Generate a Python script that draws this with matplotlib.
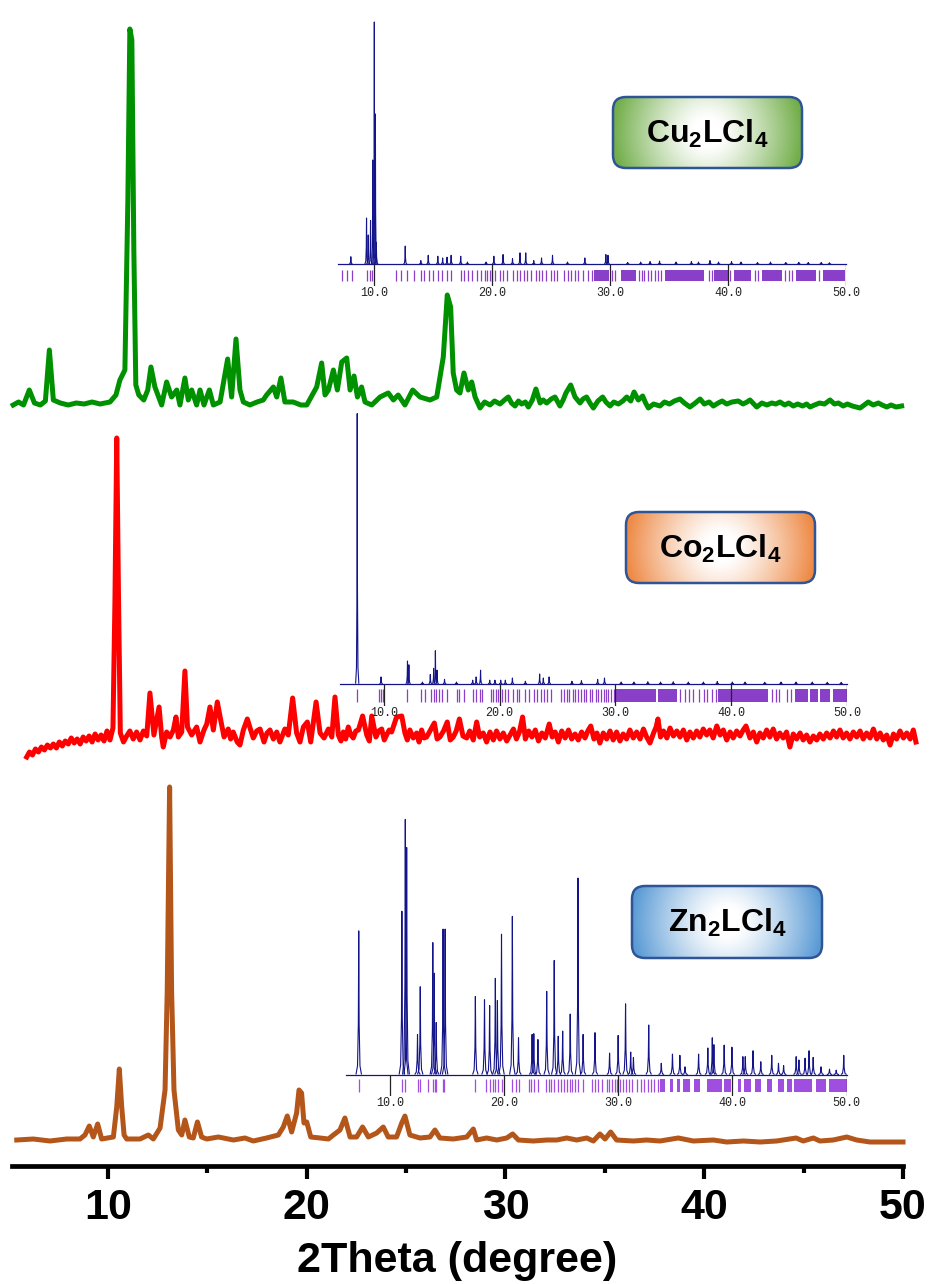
import numpy as np
import matplotlib.pyplot as plt
import matplotlib.colors as mcolors
from matplotlib.patches import FancyBboxPatch
from matplotlib.collections import LineCollection

W, H = 931, 1284
plt.rcParams['font.family'] = ['Liberation Sans', 'DejaVu Sans']
plt.rcParams['mathtext.fontset'] = 'custom'
plt.rcParams['mathtext.bf'] = 'Liberation Sans:bold'
plt.rcParams['mathtext.rm'] = 'Liberation Sans'

# ---- experimental patterns (2theta, counts above own baseline) ----
green_x = [5.23, 5.5, 5.75, 6.04, 6.3, 6.6, 6.85, 7.05, 7.25, 7.6,
           8.0, 8.4, 8.8, 9.2, 9.6, 10.1, 10.4, 10.6, 10.85, 11.0,
           11.1, 11.2, 11.3, 11.4, 11.55, 11.8, 12.0, 12.16, 12.36, 12.7,
           12.95, 13.2, 13.46, 13.62, 13.87, 14.04, 14.21, 14.46, 14.63, 14.83,
           15.1, 15.3, 15.64, 16.02, 16.22, 16.44, 16.64, 16.81, 17.14, 17.5,
           17.81, 17.98, 18.32, 18.49, 18.7, 18.9, 19.32, 19.7, 20.0, 20.33,
           20.5, 20.75, 20.92, 21.09, 21.34, 21.54, 21.76, 22.01, 22.18, 22.38,
           22.55, 22.76, 22.93, 23.27, 23.69, 24.1, 24.36, 24.6, 24.94, 25.33,
           25.7, 26.2, 26.54, 26.87, 27.07, 27.24, 27.37, 27.54, 27.71, 27.91,
           28.13, 28.3, 28.47, 28.72, 28.95, 29.22, 29.45, 29.72, 29.95, 30.14,
           30.3, 30.48, 30.65, 30.81, 31.0, 31.15, 31.35, 31.53, 31.74, 31.9,
           32.07, 32.3, 32.49, 32.74, 32.9, 33.04, 33.28, 33.5, 33.75, 33.9,
           34.08, 34.25, 34.42, 34.65, 34.89, 35.05, 35.26, 35.45, 35.68, 35.9,
           36.1, 36.3, 36.47, 36.68, 36.9, 37.05, 37.19, 37.45, 37.77, 38.0,
           38.25, 38.5, 38.78, 39.0, 39.28, 39.55, 39.79, 40.0, 40.25, 40.46,
           40.7, 40.9, 41.13, 41.4, 41.71, 41.95, 42.15, 42.3, 42.64, 42.9,
           43.15, 43.4, 43.6, 43.81, 44.05, 44.25, 44.48, 44.7, 44.95, 45.15,
           45.32, 45.55, 45.8, 46.05, 46.33, 46.55, 46.75, 46.99, 47.2, 47.45,
           47.65, 47.84, 48.05, 48.25, 48.5, 48.76, 48.95, 49.18, 49.4, 49.65,
           49.93]
green_i = [0, 3, 0, 15, 2, 0, 4, 55, 5, 2,
           0, 2, 1, 3, 1, 3, 10, 25, 35, 205,
           376, 365, 155, 20, 10, 5, 15, 38, 18, 0,
           23, 8, 15, 0, 27, 5, 15, 0, 15, 0,
           15, 0, 3, 46, 8, 66, 15, 3, 0, 3,
           5, 10, 18, 8, 27, 3, 3, 0, 0, 12,
           18, 42, 10, 15, 35, 15, 43, 47, 15, 29,
           8, 18, 3, 0, 8, 12, 5, 10, 0, 15,
           8, 5, 8, 48, 110, 98, 32, 15, 12, 32,
           15, 23, 8, -3, 3, 0, 4, 1, 5, 8,
           2, -1, 4, 1, 3, -2, 5, 16, 2, 5,
           2, 6, 8, -1, 5, 12, 20, 8, 2, 6,
           8, 2, -3, 4, 8, 3, -1, 3, 1, 4,
           8, 4, 13, 5, 9, 2, -3, 1, -1, 3,
           1, 4, 6, 2, -2, 2, 6, 1, 3, -1,
           2, 4, 1, 3, 4, 1, 3, 5, -2, 2,
           0, 2, 1, 3, 0, 2, -1, 1, -1, 1,
           -2, 0, 2, 1, 5, 1, 2, -1, 1, -1,
           -2, -3, 0, 3, 0, 2, 0, -2, 0, -2,
           -1]

red_x = [5.91, 6.05, 6.2, 6.35, 6.5, 6.65, 6.8, 6.95, 7.1, 7.25,
         7.4, 7.55, 7.7, 7.85, 8.0, 8.15, 8.3, 8.45, 8.6, 8.75,
         8.9, 9.05, 9.2, 9.35, 9.5, 9.65, 9.8, 9.95, 10.1, 10.25,
         10.35, 10.44, 10.53, 10.62, 10.78, 10.94, 11.1, 11.27, 11.44, 11.61,
         11.78, 11.95, 12.11, 12.31, 12.57, 12.7, 12.78, 12.95, 13.12, 13.29,
         13.42, 13.54, 13.71, 13.87, 14.0, 14.21, 14.46, 14.63, 14.83, 14.97,
         15.13, 15.3, 15.5, 15.67, 15.84, 16.05, 16.17, 16.3, 16.5, 16.64,
         16.81, 17.01, 17.18, 17.31, 17.48, 17.65, 17.85, 18.0, 18.15, 18.32,
         18.49, 18.65, 18.9, 19.07, 19.29, 19.49, 19.66, 19.83, 20.03, 20.2,
         20.47, 20.67, 20.87, 21.09, 21.26, 21.42, 21.59, 21.72, 21.84, 21.96,
         22.09, 22.22, 22.34, 22.47, 22.6, 22.81, 23.02, 23.15, 23.27, 23.48,
         23.62, 23.77, 23.9, 24.02, 24.15, 24.27, 24.52, 24.78, 24.94, 25.06,
         25.19, 25.36, 25.53, 25.65, 25.78, 25.9, 26.03, 26.2, 26.42, 26.56,
         26.7, 26.88, 27.07, 27.22, 27.37, 27.52, 27.68, 27.86,
         28.05, 28.2, 28.38, 28.55, 28.7, 28.88, 29.05, 29.22, 29.39, 29.55,
         29.72, 29.89, 30.06, 30.23, 30.4, 30.55, 30.7, 30.86, 31.0, 31.17,
         31.33, 31.5, 31.66, 31.83, 32.0, 32.2, 32.35, 32.5, 32.66, 32.83,
         33.0, 33.17, 33.33, 33.5, 33.66, 33.83, 34.0, 34.14, 34.29, 34.45,
         34.6, 34.75, 34.92, 35.09, 35.26, 35.42, 35.59, 35.76, 35.92, 36.09,
         36.26, 36.43, 36.6, 36.77, 36.94, 37.1, 37.27, 37.45, 37.58, 37.67,
         37.8, 37.95, 38.12, 38.28, 38.45, 38.62, 38.78, 38.95, 39.12, 39.28,
         39.45, 39.62, 39.78, 39.95, 40.12, 40.28, 40.45, 40.63, 40.8, 40.96,
         41.13, 41.3, 41.46, 41.63, 41.8, 41.96, 42.1, 42.3, 42.47, 42.64,
         42.8, 42.97, 43.14, 43.3, 43.47, 43.64, 43.8, 43.97, 44.14, 44.31,
         44.48, 44.65, 44.82, 44.98, 45.15, 45.32, 45.49, 45.66, 45.82, 45.99,
         46.16, 46.33, 46.5, 46.66, 46.83, 46.99, 47.16, 47.33, 47.5, 47.67,
         47.84, 48.0, 48.17, 48.34, 48.51, 48.68, 48.85, 49.01, 49.18, 49.35,
         49.52, 49.68, 49.85, 50.02, 50.19, 50.36, 50.52, 50.65]
red_i = [0, 5, 2, 8, 5, 10, 7, 12, 9, 13,
         9, 15, 11, 16, 13, 19, 14, 18, 13, 20,
         16, 21, 15, 23, 17, 22, 16, 26, 17, 29,
         157, 319, 157, 24, 15, 21, 26, 18, 25, 17,
         26, 21, 64, 22, 50, 20, 10, 25, 20, 27,
         40, 20, 25, 86, 30, 22, 30, 15, 27, 33,
         50, 27, 55, 37, 20, 28, 18, 25, 15, 12,
         27, 38, 27, 19, 26, 28, 15, 24, 27, 18,
         25, 15, 28, 22, 59, 24, 15, 30, 35, 15,
         55, 24, 19, 28, 20, 60, 22, 16, 25, 18,
         30, 22, 19, 26, 27, 41, 22, 16, 41, 20,
         26, 28, 17, 22, 27, 25, 40, 41, 24, 17,
         27, 19, 24, 15, 27, 19, 20, 26, 34, 18,
         20, 26, 35, 17, 20, 26, 38, 21,
         19, 26, 17, 35, 20, 24, 15, 25, 17, 26,
         18, 24, 16, 22, 28, 18, 25, 40, 18, 26,
         20, 27, 16, 24, 19, 33, 20, 25, 15, 26,
         19, 27, 18, 23, 17, 25, 19, 26, 31, 18,
         24, 14, 24, 18, 26, 17, 25, 16, 23, 18,
         27, 19, 25, 18, 28, 20, 14, 24, 30, 38,
         20, 26, 19, 29, 21, 26, 20, 27, 17, 25,
         19, 26, 20, 28, 22, 27, 19, 31, 22, 27,
         17, 25, 19, 26, 21, 27, 31, 19, 25, 15,
         24, 19, 27, 20, 28, 18, 24, 19, 25, 10,
         23, 18, 24, 17, 22, 15, 21, 17, 23, 18,
         24, 19, 26, 20, 27, 19, 24, 18, 25, 20,
         26, 18, 24, 19, 28, 18, 24, 17, 22, 12,
         23, 18, 26, 19, 24, 18, 27, 15]

brown_x = [5.41, 6.24, 7.08, 7.92, 8.59, 8.84, 9.06, 9.26, 9.48, 9.68,
           10.27, 10.44, 10.57, 10.69, 10.81, 10.94, 11.61, 12.03, 12.28, 12.62,
           12.87, 12.98, 13.1, 13.2, 13.32, 13.54, 13.71, 13.87, 14.09, 14.29,
           14.5, 14.71, 14.97, 15.55, 16.31, 16.89, 17.31, 17.98, 18.57, 18.82,
           19.02, 19.24, 19.49, 19.61, 19.74, 19.86, 20.0, 20.2, 20.67, 21.09,
           21.34, 21.67, 21.92, 22.18, 22.51, 22.81, 23.1, 23.52, 23.85, 24.1,
           24.52, 24.78, 24.94, 25.19, 25.7, 26.2, 26.45, 26.7, 27.37, 28.05,
           28.38, 28.55, 29.05, 29.56, 30.06, 30.36, 30.65, 31.4, 32.07, 32.58,
           33.08, 33.58, 34.09, 34.42, 34.75, 35.01, 35.29, 35.59, 36.43, 37.1,
           37.77, 38.69, 39.45, 40.46, 41.13, 41.97, 42.81, 43.64, 44.62, 44.98,
           45.49, 45.82, 46.49, 47.17, 47.67, 48.34, 49.18, 50.0]
brown_i = [1, 2, 0, 2, 2, 6, 15, 4, 17, 2,
           4, 34, 72, 34, 6, 2, 2, 6, 2, 13,
           51, 150, 354, 150, 51, 11, 6, 21, 4, 3,
           19, 4, 2, 4, 1, 3, 0, 3, 6, 14,
           25, 9, 28, 51, 48, 18, 19, 4, 3, 2,
           6, 11, 23, 4, 4, 14, 4, 8, 14, 4,
           4, 18, 25, 6, 3, 4, 11, 3, 2, 4,
           12, 1, 3, 1, 3, 7, 1, 0, 1, 1,
           3, 1, 3, 0, 7, 2, 9, 1, 0, 1,
           0, 3, 0, 1, -1, 0, -1, 0, 3, 0,
           3, 0, 1, 4, 1, -1, -1, -1]

# ---- simulated patterns (peak position, relative intensity) ----
cu_sim_pos = [8.04, 9.37, 9.51, 9.71, 9.91, 10.03, 10.12, 10.2, 12.65, 13.97,
              14.6, 15.41, 15.82, 16.19, 16.54, 17.35, 17.92, 19.5, 20.16, 20.94,
              21.74, 22.37, 22.86, 23.54, 24.2, 25.13, 26.4, 27.87, 29.65, 29.83,
              31.5, 32.6, 33.4, 34.2, 35.6, 36.9, 37.5, 38.47, 39.2, 40.3,
              41.1, 42.5, 43.6, 44.9, 46.0, 46.8, 47.9, 48.6]
cu_sim_int = [0.03, 0.19, 0.12, 0.18, 0.43, 1.0, 0.62, 0.09, 0.074, 0.014,
              0.036, 0.032, 0.025, 0.028, 0.036, 0.032, 0.008, 0.008, 0.032, 0.039,
              0.022, 0.046, 0.046, 0.014, 0.025, 0.036, 0.008, 0.025, 0.039, 0.036,
              0.006, 0.008, 0.01, 0.012, 0.008, 0.01, 0.008, 0.014, 0.008, 0.01,
              0.008, 0.006, 0.008, 0.006, 0.007, 0.006, 0.006, 0.005]
cu_refl = [7.32, 7.69, 8.13, 9.37, 9.65, 9.86, 11.87, 12.31, 12.82, 13.4,
           13.98, 14.27, 14.67, 15.04, 15.42, 15.76, 16.2, 16.54, 17.35, 17.64,
           17.93, 18.3, 18.7, 19.08, 19.37, 19.57, 19.8, 20.03, 20.23, 20.66,
           20.95, 21.24, 21.82, 22.1, 22.39, 22.68, 22.97, 23.31, 23.69, 23.98,
           24.27, 24.55, 24.99, 25.27, 25.5, 26.14, 26.43, 26.71, 27.0, 27.29,
           27.72, 28.16, 28.44, 30.17, 30.46, 32.48, 32.71, 32.91, 33.2, 33.49,
           33.78, 34.06, 34.35, 38.39, 38.67, 40.2, 42.28, 42.56, 44.87, 45.16,
           45.45, 47.75]
cu_bands = [(28.67, 29.94), (30.9, 32.19), (34.64, 37.95), (38.82, 39.97),
            (40.55, 41.99), (42.85, 44.58), (45.73, 47.46), (48.04, 49.91)]

co_sim_pos = [7.71, 9.77, 12.05, 12.17, 13.34, 14.02, 14.31, 14.46, 14.6, 15.25,
              16.28, 17.68, 17.98, 18.36, 19.15, 19.6, 20.1, 20.5, 21.11, 22.23,
              23.46, 23.78, 24.28, 26.25, 27.07, 28.47, 29.06, 30.5, 31.6, 32.8,
              33.9, 35.0, 36.3, 37.6, 38.8, 40.1, 41.2, 42.9, 44.3, 45.6,
              47.0, 48.3, 49.5]
co_sim_int = [1.0, 0.025, 0.084, 0.07, 0.006, 0.034, 0.057, 0.122, 0.05, 0.016,
              0.006, 0.013, 0.025, 0.05, 0.013, 0.013, 0.013, 0.013, 0.021, 0.009,
              0.036, 0.021, 0.025, 0.009, 0.011, 0.016, 0.021, 0.006, 0.006, 0.007,
              0.006, 0.007, 0.006, 0.006, 0.008, 0.006, 0.006, 0.005, 0.006, 0.006,
              0.006, 0.005, 0.005]
co_refl = [7.65, 9.62, 9.77, 9.91, 12.05, 13.23, 13.58, 14.11, 14.31, 14.52,
           14.75, 15.04, 15.48, 16.36, 16.51, 16.89, 17.68, 17.98, 18.27, 18.5,
           19.3, 19.44, 19.65, 19.88, 20.18, 20.47, 20.76, 21.2, 21.5, 21.7,
           22.23, 22.52, 22.96, 23.26, 23.55, 23.84, 24.13, 24.43, 25.3, 25.55,
           25.8, 26.0, 26.3, 26.55, 26.8, 27.05, 27.3, 27.5, 27.8, 28.0,
           28.3, 28.5, 28.75, 29.0, 29.2, 29.4, 29.65, 29.85, 35.57, 36.01,
           36.39, 36.74, 37.18, 37.62, 37.92, 38.36, 38.65, 43.49, 43.84, 44.13,
           44.81, 45.19]
co_bands = [(30.0, 33.5), (33.65, 35.3), (38.9, 40.0), (40.1, 43.2),
            (45.5, 46.6), (46.8, 47.5), (47.7, 48.5), (48.75, 50.0)]

zn_sim_pos = [7.26, 11.04, 11.34, 11.46, 12.41, 12.65, 13.75, 13.87, 14.05, 14.65,
              14.83, 17.48, 18.28, 18.73, 19.23, 19.41, 19.77, 20.72, 21.26, 22.45,
              22.6, 22.96, 23.73, 24.39, 24.74, 25.13, 25.79, 26.47, 26.92, 27.96,
              29.24, 29.99, 30.64, 31.09, 31.33, 32.67, 33.77, 34.75, 35.4, 35.85,
              37.04, 37.85, 38.24, 38.38, 39.28, 39.96, 40.92, 41.13, 41.81, 42.49,
              43.45, 44.04, 44.49, 45.59, 45.83, 46.37, 46.72, 47.08, 47.77, 48.51,
              49.1, 49.76]
zn_sim_int = [0.563, 0.64, 1.0, 0.89, 0.157, 0.344, 0.517, 0.397, 0.204, 0.57,
              0.57, 0.306, 0.293, 0.27, 0.377, 0.29, 0.55, 0.62, 0.144, 0.157,
              0.16, 0.137, 0.326, 0.447, 0.15, 0.17, 0.237, 0.77, 0.157, 0.164,
              0.084, 0.153, 0.277, 0.088, 0.067, 0.194, 0.044, 0.08, 0.075, 0.03,
              0.08, 0.104, 0.144, 0.117, 0.115, 0.107, 0.07, 0.07, 0.093, 0.05,
              0.075, 0.044, 0.035, 0.07, 0.057, 0.064, 0.093, 0.067, 0.03, 0.021,
              0.017, 0.075]
zn_refl = [7.32, 11.04, 11.34, 12.41, 12.65, 13.37, 13.75, 13.9, 14.05, 14.65,
           14.77, 17.48, 18.37, 18.73, 19.02, 19.23, 19.47, 19.77, 20.72, 21.05,
           21.32, 22.15, 22.36, 22.6, 22.96, 23.7, 23.94, 24.15, 24.39, 24.69,
           24.98, 25.28, 25.52, 25.73, 25.93, 26.17, 26.47, 26.92, 27.66, 27.96,
           28.26, 28.56, 29.0, 29.21, 29.45, 29.69, 29.9, 30.19, 30.4, 30.64,
           30.94, 31.24, 31.68, 31.98, 32.28, 32.58, 32.87, 33.17, 33.47]
zn_bands = [(33.62, 34.07), (34.51, 34.81), (35.11, 35.41), (35.7, 36.3),
            (36.6, 37.19), (37.79, 39.13), (39.28, 39.87), (40.47, 40.77),
            (41.06, 41.66), (41.96, 42.55), (43.0, 43.45), (44.04, 44.49),
            (44.79, 45.23), (45.38, 47.02), (47.32, 48.21), (48.51, 50.0)]

main_ticks = [10, 20, 30, 40, 50]
inset_ticks = [10, 20, 30, 40, 50]
inset_labels = ['10.0', '20.0', '30.0', '40.0', '50.0']

fig = plt.figure(figsize=(W / 100, H / 100), dpi=100)


def px_axes(left, top, right, bottom, z=1):
    a = fig.add_axes([left / W, 1 - bottom / H, (right - left) / W, (bottom - top) / H])
    a.set_zorder(z)
    a.patch.set_alpha(0)
    return a


# main axis
ax = px_axes(12, 0, 903, 1166)
ax.set_xlim(5.17, 50)
ax.set_ylim(0, 1166)
for s in ['left', 'right', 'top']:
    ax.spines[s].set_visible(False)
ax.spines['bottom'].set_linewidth(3.4)
ax.set_yticks([])
ax.set_xticks(main_ticks, labels=[str(t) for t in main_ticks], fontsize=31, fontweight='bold')
ax.set_xticks([15, 25, 35, 45], minor=True)
ax.tick_params(axis='x', which='major', direction='out', length=9, width=3, pad=7)
ax.tick_params(axis='x', which='minor', direction='out', length=5, width=3)
ax.set_xlabel('2Theta (degree)', fontsize=31, fontweight='bold', labelpad=9)

ax.plot(green_x, np.array(green_i) + 761, color='#009100', lw=3.6, solid_joinstyle='round', clip_on=False)
ax.plot(red_x, np.array(red_i) + 409, color='#ff0000', lw=3.6, solid_joinstyle='round', clip_on=False)
ax.plot(brown_x, np.array(brown_i) + 25, color='#b4561a', lw=3.6, solid_joinstyle='round', clip_on=False)

# peak outline shape used for the simulated sticks
shape_dx = [-1, -0.45, -0.15, 0, 0.15, 0.45, 1]
shape_dy = [0, 0.06, 0.35, 1, 0.35, 0.06, 0]


def draw_inset(left, right, x0, top, base, bottom, t0, t1, pos, inten, hw, refl, bands, tcol):
    pax = px_axes(left, top, right, base, z=2)
    pax.set_xlim(x0, 50)
    pax.set_ylim(0, 1)
    pax.axis('off')
    segs = [[(p + d * hw, h * f) for d, f in zip(shape_dx, shape_dy)] for p, h in zip(pos, inten)]
    pax.add_collection(LineCollection(segs, colors='#14148a', linewidths=0.8, clip_on=False))
    pax.plot([x0, 50], [0, 0], color='#14148a', lw=0.9, clip_on=False)

    rax = px_axes(left, base, right, bottom, z=2)
    rax.set_xlim(x0, 50)
    rax.set_ylim(bottom, base)
    for s in rax.spines.values():
        s.set_visible(False)
    rax.set_yticks([])
    rax.vlines(refl, t0, t1, color=tcol, lw=0.9)
    rax.broken_barh([(a, b - a) for a, b in bands], (t0, t1 - t0), color=tcol, lw=0)
    rax.vlines(inset_ticks, base, bottom, color='#222222', lw=0.9)
    rax.set_xticks(inset_ticks, labels=inset_labels, fontsize=8.5, family='Liberation Mono', color='#222222')
    rax.tick_params(axis='x', length=0, pad=1)


draw_inset(337.5, 846, 6.91, 22, 264, 286, 269.5, 281, cu_sim_pos, cu_sim_int, 0.14,
           cu_refl, cu_bands, '#8a3fc8')
draw_inset(339.5, 847, 6.18, 413.6, 683.7, 706, 689, 702, co_sim_pos, co_sim_int, 0.14,
           co_refl, co_bands, '#8a3fc8')
draw_inset(346.3, 846.5, 6.17, 819.4, 1074.5, 1096, 1078.6, 1091.5, zn_sim_pos, zn_sim_int, 0.24,
           zn_refl, zn_bands, '#a04ee0')

# label boxes with radial gradient fill
ov = fig.add_axes([0, 0, 1, 1])
ov.set_zorder(5)
ov.patch.set_alpha(0)
ov.axis('off')


def label_box(x0, y0, x1, y1, col, text):
    w, h = x1 - x0, y1 - y0
    gx, gy = np.meshgrid(np.linspace(-1, 1, 300), np.linspace(-h / w, h / w, 120))
    r = np.clip((np.sqrt(gx ** 2 + gy ** 2) - 0.15) / 0.85, 0, 1)
    c = np.array(mcolors.to_rgb(col))
    img = 1 - (1 - c) * r[..., None] ** 1.2
    box = FancyBboxPatch((x0, y0), w, h, boxstyle='round,pad=0,rounding_size=13',
                         fc='none', ec='#2f5597', lw=1.8, zorder=3)
    ov.add_patch(box)
    im = ov.imshow(img, extent=(x0, x1, y1, y0), aspect='auto', zorder=2)
    im.set_clip_path(box)
    ov.text((x0 + x1) / 2, (y0 + y1) / 2 + 1, text, ha='center', va='center',
            fontsize=23, zorder=4)


label_box(613, 97, 802, 168, '#72ae4a', r'$\mathbf{Cu_2LCl_4}$')
label_box(626, 512, 815, 583, '#ee8a46', r'$\mathbf{Co_2LCl_4}$')
label_box(632, 886, 822, 958, '#5b9bd5', r'$\mathbf{Zn_2LCl_4}$')
ov.set_xlim(0, W)
ov.set_ylim(H, 0)

fig.savefig('out.png', dpi=100)
